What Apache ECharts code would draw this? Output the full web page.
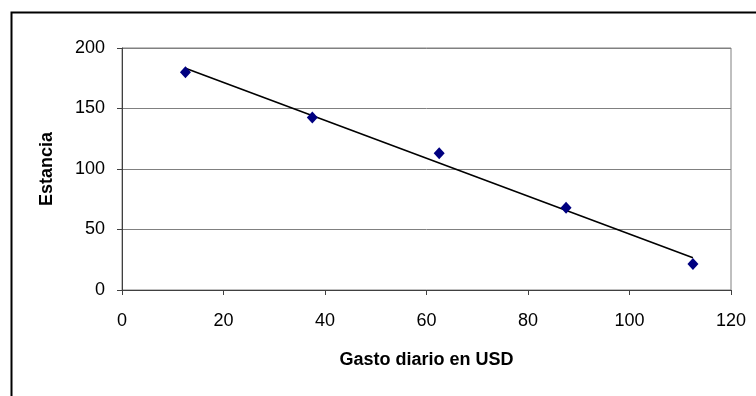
<!DOCTYPE html>
<html>
<head>
<meta charset="utf-8">
<script src="https://cdn.jsdelivr.net/npm/echarts@6/dist/echarts.min.js"></script>
<style>
html,body{margin:0;padding:0;background:#fff;}
#c{width:756px;height:396px;}
</style>
</head>
<body>
<div id="c"></div>
<script>
// Data
var gasto = [12.5, 37.5, 62.5, 87.5, 112.5];
var estancia = [180, 142.5, 113, 68, 21.5];
var xTicks = [0, 20, 40, 60, 80, 100, 120];
var yTicks = [0, 50, 100, 150, 200];
var xTitle = 'Gasto diario en USD';
var yTitle = 'Estancia';

// Linear trend line (least squares) computed from the data
var n = gasto.length, mx = 0, my = 0;
for (var i = 0; i < n; i++) { mx += gasto[i]; my += estancia[i]; }
mx /= n; my /= n;
var sxy = 0, sxx = 0;
for (var i = 0; i < n; i++) { sxy += (gasto[i]-mx)*(estancia[i]-my); sxx += (gasto[i]-mx)*(gasto[i]-mx); }
var slope = sxy / sxx, icpt = my - slope * mx;
var xa = gasto[0], xb = gasto[n-1];
var trend = [[xa, icpt + slope*xa], [xb, icpt + slope*xb]];

var FONT = '"Liberation Sans", Arial, sans-serif';
var chart = echarts.init(document.getElementById('c'), null, {renderer: 'canvas'});
chart.setOption({
  animation: false,
  backgroundColor: '#fff',
  graphic: [{
    type: 'rect', left: 9, top: 10, z: -1, silent: true,
    shape: {width: 760, height: 400},
    style: {fill: 'none', stroke: '#000', lineWidth: 2}
  }],
  grid: {left: 122, top: 48, right: 25, bottom: 106, show: true, borderColor: '#808080', borderWidth: 1, backgroundColor: 'transparent'},
  xAxis: {
    type: 'value', min: xTicks[0], max: xTicks[xTicks.length-1], interval: 20,
    name: xTitle, nameLocation: 'middle', nameGap: 61,
    nameTextStyle: {fontFamily: FONT, fontWeight: 'bold', fontSize: 18, color: '#000'},
    axisLine: {show: true, lineStyle: {color: '#404040', width: 1}},
    axisTick: {show: true, length: 5, lineStyle: {color: '#404040'}},
    axisLabel: {fontFamily: FONT, fontSize: 18, color: '#000', margin: 22},
    splitLine: {show: false}
  },
  yAxis: {
    type: 'value', min: yTicks[0], max: yTicks[yTicks.length-1], interval: 50,
    name: yTitle, nameLocation: 'middle', nameGap: 66, nameRotate: 90,
    nameTextStyle: {fontFamily: FONT, fontWeight: 'bold', fontSize: 18, color: '#000'},
    axisLine: {show: true, lineStyle: {color: '#404040', width: 1}},
    axisTick: {show: true, length: 5, lineStyle: {color: '#404040'}},
    axisLabel: {fontFamily: FONT, fontSize: 18, color: '#000', margin: 17},
    splitLine: {show: true, lineStyle: {color: '#808080', width: 1}}
  },
  series: [
    {
      type: 'line', data: trend, showSymbol: false, symbol: 'none',
      lineStyle: {color: '#000', width: 1.6}, z: 2, silent: true
    },
    {
      type: 'scatter', data: gasto.map(function(x, i){ return [x, estancia[i]]; }),
      symbol: 'diamond', symbolSize: [11, 12],
      itemStyle: {color: '#000080', opacity: 1}, z: 3
    }
  ]
});
</script>
</body>
</html>
